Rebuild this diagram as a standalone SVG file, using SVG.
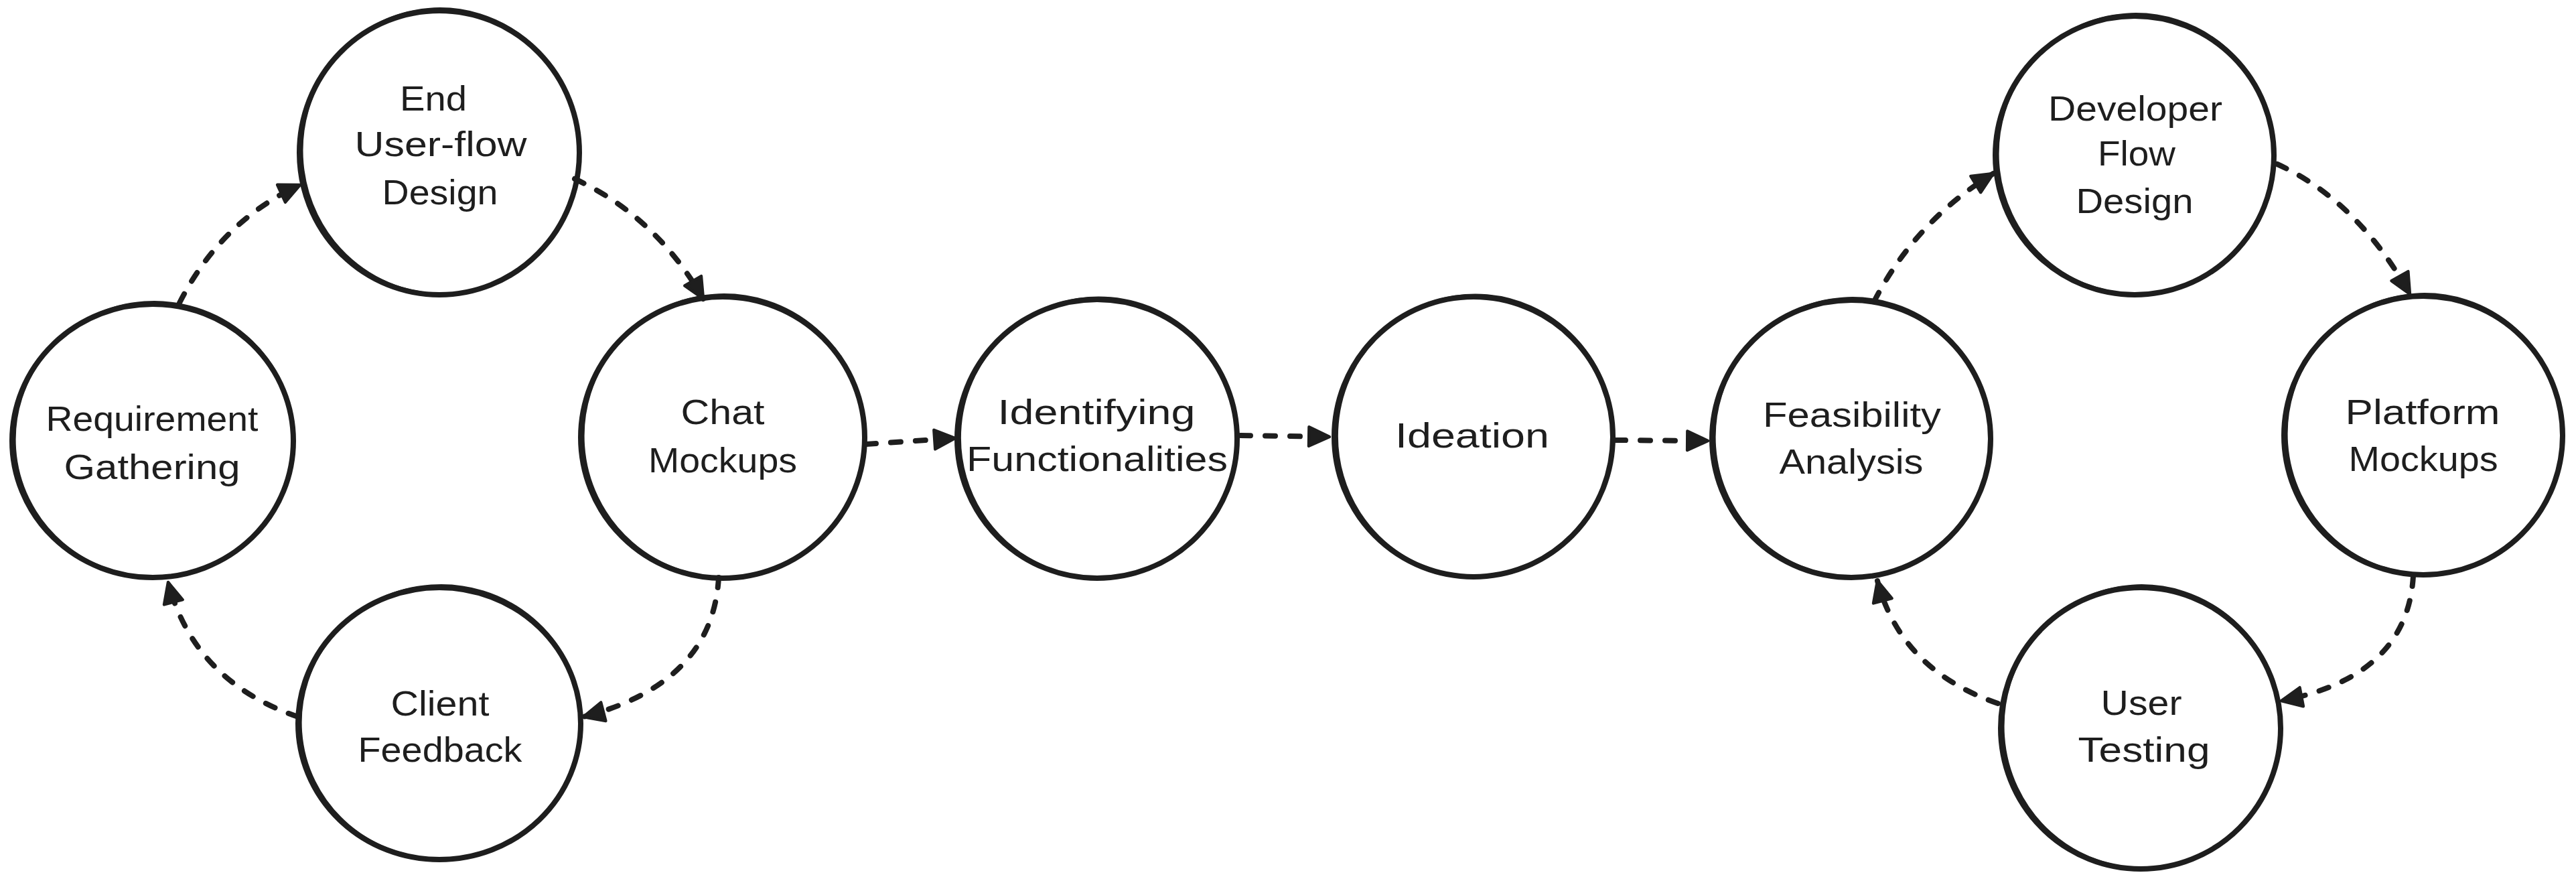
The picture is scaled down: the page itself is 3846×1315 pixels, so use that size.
<svg xmlns="http://www.w3.org/2000/svg" width="3846" height="1315" viewBox="0 0 3846 1315">
<style>
.node ellipse.main{fill:none;stroke:#1e1e1e;stroke-width:8}
.node ellipse.pass{fill:none;stroke:#1e1e1e;stroke-width:3.5}
.node text{font-family:"Liberation Sans","DejaVu Sans",sans-serif;font-size:52px;fill:#1e1e1e;text-anchor:middle}
.conn path{fill:none;stroke:#1e1e1e;stroke-width:8;stroke-linecap:round;stroke-dasharray:15 22;marker-end:url(#ah)}
</style>
<defs>
<marker id="ah" markerUnits="userSpaceOnUse" markerWidth="44" markerHeight="44" viewBox="-4 -4 40 40" refX="30" refY="15" orient="auto">
<path d="M2,2 L30,15 L2,28 Z" fill="#1e1e1e" stroke="#1e1e1e" stroke-width="4" stroke-linejoin="round"/>
</marker>
</defs>
<rect width="3846" height="1315" fill="#ffffff"/>
<g id="connectors" class="conn">
<path d="M268,452 Q330,330 448,276"/>
<path d="M858,267 Q979,323 1050,446"/>
<path d="M1073,862 Q1064,1020 871,1070"/>
<path d="M445,1070 Q290,1017 251,869"/>
<path d="M1293,663 L1426,654"/>
<path d="M1852,650 L1985,652"/>
<path d="M2412,657 L2550,658"/>
<path d="M2798,450 Q2860,330 2976,259"/>
<path d="M3400,245 Q3520,300 3598,439"/>
<path d="M3603,860 Q3594,1010 3406,1046"/>
<path d="M2983,1050 Q2838,1000 2803,867"/>
</g>
<g id="node-requirement-gathering" class="node">
<ellipse class="main" cx="228" cy="658" rx="210" ry="204"/>
<ellipse class="pass" cx="230" cy="656" rx="208" ry="205" transform="rotate(-4 228 658)"/>
<text x="227" y="643" textLength="317" lengthAdjust="spacingAndGlyphs">Requirement</text>
<text x="227" y="715" textLength="263" lengthAdjust="spacingAndGlyphs">Gathering</text>
</g>
<g id="node-end-user-flow-design" class="node">
<ellipse class="main" cx="656" cy="228" rx="209" ry="212"/>
<ellipse class="pass" cx="658" cy="226" rx="207" ry="213" transform="rotate(-5 656 228)"/>
<text x="647" y="165" textLength="100" lengthAdjust="spacingAndGlyphs">End</text>
<text x="658" y="233" textLength="257" lengthAdjust="spacingAndGlyphs">User-flow</text>
<text x="657" y="305" textLength="173" lengthAdjust="spacingAndGlyphs">Design</text>
</g>
<g id="node-chat-mockups" class="node">
<ellipse class="main" cx="1079" cy="653" rx="212" ry="210"/>
<ellipse class="pass" cx="1081" cy="651" rx="210" ry="211" transform="rotate(-4 1079 653)"/>
<text x="1079" y="633" textLength="125" lengthAdjust="spacingAndGlyphs">Chat</text>
<text x="1079" y="705" textLength="222" lengthAdjust="spacingAndGlyphs">Mockups</text>
</g>
<g id="node-client-feedback" class="node">
<ellipse class="main" cx="656" cy="1080" rx="211" ry="203"/>
<ellipse class="pass" cx="658" cy="1078" rx="209" ry="204" transform="rotate(-4 656 1080)"/>
<text x="657" y="1068" textLength="147" lengthAdjust="spacingAndGlyphs">Client</text>
<text x="657" y="1137" textLength="245" lengthAdjust="spacingAndGlyphs">Feedback</text>
</g>
<g id="node-identifying-functionalities" class="node">
<ellipse class="main" cx="1638" cy="655" rx="209" ry="208"/>
<ellipse class="pass" cx="1640" cy="653" rx="207" ry="209" transform="rotate(5 1638 655)"/>
<text x="1637" y="633" textLength="295" lengthAdjust="spacingAndGlyphs">Identifying</text>
<text x="1638" y="703" textLength="390" lengthAdjust="spacingAndGlyphs">Functionalities</text>
</g>
<g id="node-ideation" class="node">
<ellipse class="main" cx="2200" cy="652" rx="208" ry="209"/>
<ellipse class="pass" cx="2202" cy="650" rx="206" ry="210" transform="rotate(5 2200 652)"/>
<text x="2198" y="668" textLength="230" lengthAdjust="spacingAndGlyphs">Ideation</text>
</g>
<g id="node-feasibility-analysis" class="node">
<ellipse class="main" cx="2764" cy="655" rx="208" ry="207"/>
<ellipse class="pass" cx="2766" cy="653" rx="206" ry="208" transform="rotate(-4 2764 655)"/>
<text x="2765" y="637" textLength="266" lengthAdjust="spacingAndGlyphs">Feasibility</text>
<text x="2764" y="707" textLength="215" lengthAdjust="spacingAndGlyphs">Analysis</text>
</g>
<g id="node-developer-flow-design" class="node">
<ellipse class="main" cx="3187" cy="232" rx="208" ry="208"/>
<ellipse class="pass" cx="3189" cy="230" rx="206" ry="209" transform="rotate(-4 3187 232)"/>
<text x="3188" y="180" textLength="260" lengthAdjust="spacingAndGlyphs">Developer</text>
<text x="3190" y="247" textLength="116" lengthAdjust="spacingAndGlyphs">Flow</text>
<text x="3187" y="318" textLength="175" lengthAdjust="spacingAndGlyphs">Design</text>
</g>
<g id="node-platform-mockups" class="node">
<ellipse class="main" cx="3618" cy="650" rx="208" ry="208"/>
<ellipse class="pass" cx="3620" cy="648" rx="206" ry="209" transform="rotate(-4 3618 650)"/>
<text x="3617" y="633" textLength="231" lengthAdjust="spacingAndGlyphs">Platform</text>
<text x="3618" y="703" textLength="223" lengthAdjust="spacingAndGlyphs">Mockups</text>
</g>
<g id="node-user-testing" class="node">
<ellipse class="main" cx="3196" cy="1087" rx="209" ry="210"/>
<ellipse class="pass" cx="3198" cy="1085" rx="207" ry="211" transform="rotate(-4 3196 1087)"/>
<text x="3197" y="1067" textLength="121" lengthAdjust="spacingAndGlyphs">User</text>
<text x="3201" y="1137" textLength="197" lengthAdjust="spacingAndGlyphs">Testing</text>
</g>
</svg>
